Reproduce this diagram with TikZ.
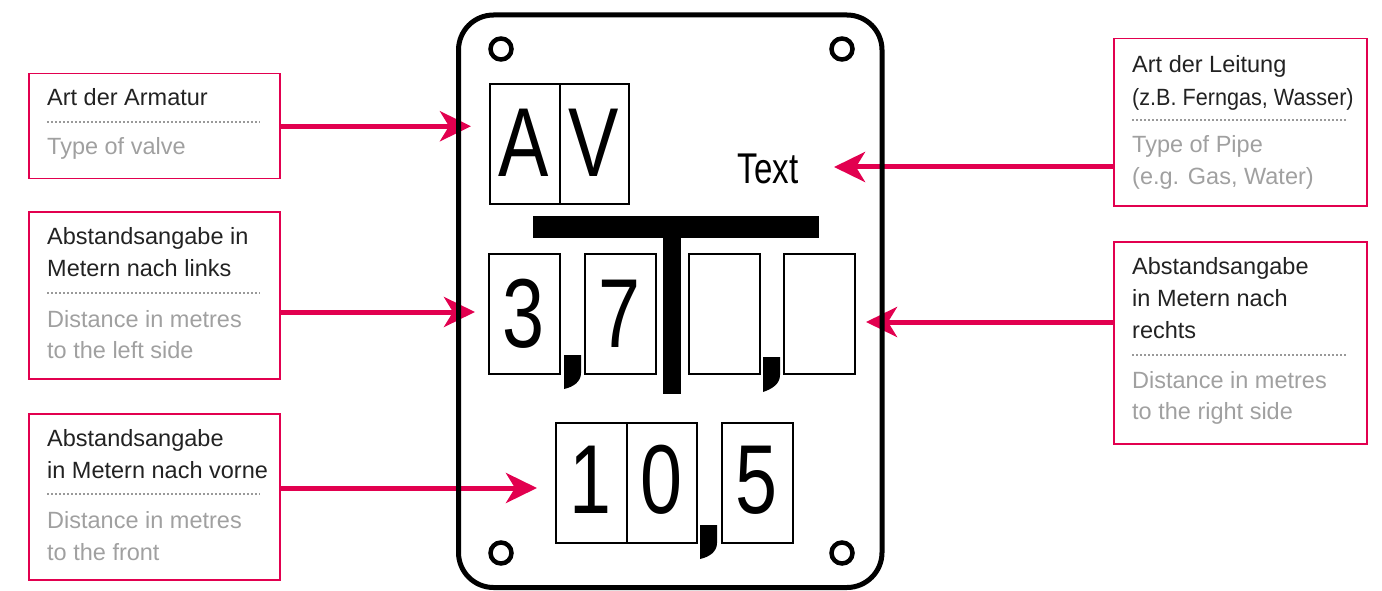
\documentclass[tikz,border=0pt]{standalone}
\usepackage{fontspec}
\usepackage{graphicx}
\setmainfont{Liberation Sans}
\newfontfamily\condfont[FakeStretch=0.77]{Liberation Sans}
\usetikzlibrary{arrows.meta}
\definecolor{crim}{HTML}{E2004F}
\definecolor{txtgray}{HTML}{A0A0A0}
\definecolor{txtdark}{HTML}{222222}
\begin{document}
\begin{tikzpicture}[x=1pt,y=-1pt,
 annbox/.style={draw=crim, line width=1.5pt, inner sep=0pt, anchor=north west},
 de/.style={anchor=base west, inner sep=0pt, text=txtdark, font=\fontsize{23.5}{28}\selectfont},
 en/.style={de, text=txtgray},
 dots/.style={draw=gray!80, line width=2.3pt, dash pattern=on 1.6pt off 2.4pt},
 arr/.style={draw=crim, line width=5pt, -{Stealth[length=31pt,width=30pt,inset=9pt]}},
 digbox/.style={draw=black, line width=2pt, inner sep=0pt, minimum height=120pt, anchor=north west},
 dig/.style={anchor=base, inner sep=0pt, font=\condfont\fontsize{98}{98}\selectfont},
 plate/.style={line width=5pt, rounded corners=35pt},
 hole/.style={line width=4.5pt},
]
\useasboundingbox (0,0) rectangle (1382,591);

% annotation boxes
\node[annbox, minimum width=251pt, minimum height=105pt] (b1) at (28,73) {};
\node[annbox, minimum width=251pt, minimum height=167pt] (b2) at (28,211) {};
\node[annbox, minimum width=251pt, minimum height=166pt] (b3) at (28,413) {};
\node[annbox, minimum width=253pt, minimum height=167pt] (r1) at (1113,38) {};
\node[annbox, minimum width=253pt, minimum height=202pt] (r2) at (1113,241) {};

% texts left
\node[de] (b1a) at (47,106) {Art der Armatur};
\draw[dots] (47,122) -- (260,122);
\node[en] (b1b) at (47,155) {Type of valve};

\node[de] (b2a) at (47,244) {Abstandsangabe in};
\node[de] (b2b) at (47,276) {Metern nach links};
\draw[dots] (47,293) -- (260,293);
\node[en] (b2c) at (47,327) {Distance in metres};
\node[en] (b2d) at (47,358) {to the left side};

\node[de] (b3a) at (47,446) {Abstandsangabe};
\node[de] (b3b) at (47,478) {in Metern nach vorne};
\draw[dots] (47,494) -- (260,494);
\node[en] (b3c) at (47,528) {Distance in metres};
\node[en] (b3d) at (47,560) {to the front};

% texts right
\node[de] (r1a) at (1132,73) {Art der Leitung};
\node[de] (r1b) at (1132,106) {\scalebox{0.92}[1]{(z.B. Ferngas, Wasser)}};
\draw[dots] (1132,120) -- (1346,120);
\node[en] (r1c) at (1132,153) {Type of Pipe};
\node[en] (r1d) at (1132,185) {(e.g. Gas, Water)};

\node[de] (r2a) at (1132,274) {Abstandsangabe};
\node[de] (r2b) at (1132,306) {in Metern nach};
\node[de] (r2c) at (1132,338) {rechts};
\draw[dots] (1132,355) -- (1346,355);
\node[en] (r2d) at (1132,388) {Distance in metres};
\node[en] (r2e) at (1132,419) {to the right side};

% arrows
\coordinate (tAV) at (471,125);
\coordinate (t37) at (475,312);
\coordinate (t105) at (537,488);
\coordinate (tTxt) at (834,167);
\coordinate (tR) at (866,322);
\draw[arr] (b1.east) -- (b1.east -| tAV);
\draw[arr] (b2.east |- t37) -- (t37);
\draw[arr] (b3.east |- t105) -- (t105);
\draw[arr] (r1.west |- tTxt) -- (tTxt);
\draw[arr] (r2.west |- tR) -- (tR);

% plate
\draw[plate] (458.5,15) rectangle (882,587.5);
\draw[hole] (501,49) circle[radius=10.5pt];
\draw[hole] (842,49) circle[radius=10.5pt];
\draw[hole] (501,553) circle[radius=10.5pt];
\draw[hole] (842,553) circle[radius=10.5pt];

% T bar
\fill (533,216) rectangle (819,238);
\fill (663,238) rectangle (681,394);

% AV
\node[digbox, minimum width=70pt] (bA) at (489,83) {};
\node[digbox, minimum width=69pt] (bV) at (559,83) {};
\node[dig] (lA) at (524,177) {A};
\node[dig] (lV) at (593.5,177) {V};
\node[anchor=base, inner sep=0pt, font=\condfont\fontsize{43}{43}\selectfont] (txt) at (768,183) {Text};

% row 2
\node[digbox, minimum width=71pt] (c1) at (488,253) {};
\node[digbox, minimum width=71pt] (c2) at (584,253) {};
\node[digbox, minimum width=71pt] (c3) at (688,253) {};
\node[digbox, minimum width=71pt] (c4) at (783,253) {};
\node[dig] (d3) at (523.5,347) {3};
\node[dig] (d7) at (619.5,347) {7};
\fill (564,355) -- (581,355) -- (581,373) .. controls (581,382) and (573,387) .. (564,389) -- cycle;
\fill (763,357) -- (780,357) -- (780,375) .. controls (780,384) and (772,389) .. (763,392) -- cycle;

% row 3
\node[digbox, minimum width=71pt] (e1) at (555,422) {};
\node[digbox, minimum width=70pt] (e2) at (626,422) {};
\node[digbox, minimum width=71pt] (e3) at (721,422) {};
\node[dig] (f1) at (590.5,513) {1};
\node[dig] (f0) at (661,513) {0};
\node[dig] (f5) at (756.5,513) {5};
\fill (700,525) -- (717,525) -- (717,543) .. controls (717,552) and (709,557) .. (700,559) -- cycle;
\end{tikzpicture}
\end{document}
